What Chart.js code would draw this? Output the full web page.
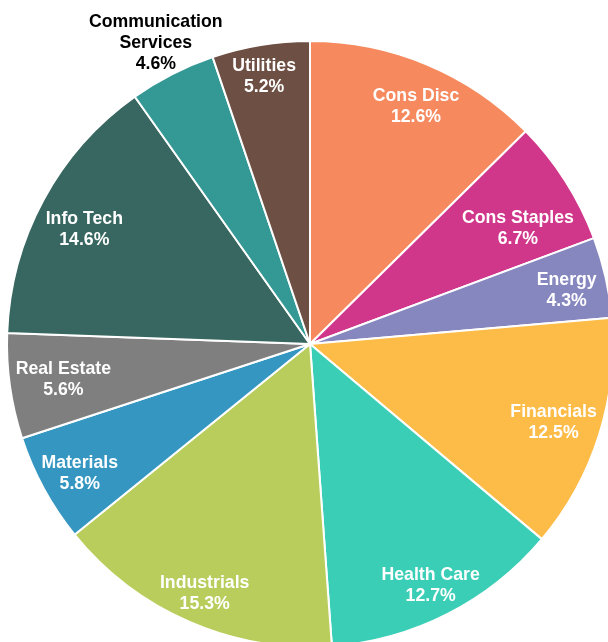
<!DOCTYPE html>
<html>
<head>
<meta charset="utf-8">
<script src="https://cdn.jsdelivr.net/npm/chart.js@4"></script>
<style>
  html, body { margin: 0; padding: 0; background: #fff; overflow: hidden; }
  #wrap { position: absolute; left: 0; top: 0; width: 640px; height: 700px; }
</style>
</head>
<body>
<div id="wrap"><canvas id="grafico" width="640" height="700"></canvas></div>
<script>
// dados (sentido horario a partir do topo)
const setores = ['Cons Disc', 'Cons Staples', 'Energy', 'Financials', 'Health Care', 'Industrials',
  'Materials', 'Real Estate', 'Info Tech', 'Communication Services', 'Utilities'];
const pesos = [12.6, 6.7, 4.3, 12.5, 12.7, 15.3, 5.8, 5.6, 14.6, 4.6, 5.2];
const cores = ['#F68A5E', '#D0368A', '#8787C0', '#FDBB47', '#3BCEB7', '#B9CD5C',
  '#3597C1', '#7F7F7F', '#376760', '#349895', '#6E4F43'];

// rotulos que ficam fora da fatia
const rotulosFora = ['Communication Services'];

function normalizar(a) {
  while (a > Math.PI) a -= 2 * Math.PI;
  while (a <= -Math.PI) a += 2 * Math.PI;
  return a;
}

const pluginRotulos = {
  id: 'rotulosFatias',
  afterDatasetsDraw(chart) {
    const { ctx } = chart;
    const meta = chart.getDatasetMeta(0);
    ctx.save();
    ctx.font = 'bold 17.7px "Liberation Sans", Arial, sans-serif';
    ctx.textAlign = 'center';
    ctx.textBaseline = 'alphabetic';
    const alturaLinha = 21;
    const cap = 12.7;
    const margem = 7;
    meta.data.forEach((arco, i) => {
      const { x, y, startAngle, endAngle, outerRadius } = arco.getProps(['x', 'y', 'startAngle', 'endAngle', 'outerRadius'], true);
      const meio = (startAngle + endAngle) / 2;
      const fora = rotulosFora.includes(setores[i]);
      const linhas = fora ? ['Communication', 'Services'] : [setores[i]];
      linhas.push(pesos[i].toFixed(1) + '%');
      const larguras = linhas.map(t => ctx.measureText(t).width);
      const H = cap + alturaLinha * (linhas.length - 1);

      // cantos de cada linha de texto, relativos ao centro da pizza
      const cantos = (cx, cy) => {
        const lista = [];
        for (let k = 0; k < linhas.length; k++) {
          const base = cy - H / 2 + cap + k * alturaLinha;
          const w = larguras[k] / 2;
          lista.push([cx - w, base - cap], [cx + w, base - cap], [cx - w, base], [cx + w, base]);
        }
        return lista;
      };

      // angulo em que a abertura angular do texto fica centrada na bissetriz
      const anguloCentrado = (d) => {
        let t = meio;
        for (let it = 0; it < 10; it++) {
          let amin = Infinity, amax = -Infinity;
          for (const [px, py] of cantos(Math.cos(t) * d, Math.sin(t) * d)) {
            const a = normalizar(Math.atan2(py, px) - meio);
            amin = Math.min(amin, a);
            amax = Math.max(amax, a);
          }
          t -= (amin + amax) / 2;
        }
        return t;
      };

      const cabe = (d, t) => cantos(Math.cos(t) * d, Math.sin(t) * d)
        .every(([px, py]) => Math.hypot(px, py) <= outerRadius - margem);

      let d, t = meio;
      if (fora) {
        d = outerRadius * 1.12;
      } else {
        d = outerRadius;
        t = anguloCentrado(d);
        while (d > 0 && !cabe(d, t)) {
          d -= 0.5;
          t = anguloCentrado(d);
        }
      }
      const px = x + Math.cos(t) * d;
      const py = y + Math.sin(t) * d;
      ctx.fillStyle = fora ? '#000' : '#fff';
      linhas.forEach((txt, k) => ctx.fillText(txt, px, py - H / 2 + cap + k * alturaLinha));
    });
    ctx.restore();
  }
};

new Chart(document.getElementById('grafico'), {
  type: 'pie',
  data: {
    labels: setores,
    datasets: [{
      data: pesos,
      backgroundColor: cores,
      borderColor: '#ffffff',
      borderWidth: 2
    }]
  },
  options: {
    responsive: false,
    animation: false,
    layout: { padding: { left: 6, top: 40, right: 26, bottom: 52 } },
    plugins: {
      legend: { display: false },
      tooltip: { enabled: false }
    }
  },
  plugins: [pluginRotulos]
});
</script>
</body>
</html>
